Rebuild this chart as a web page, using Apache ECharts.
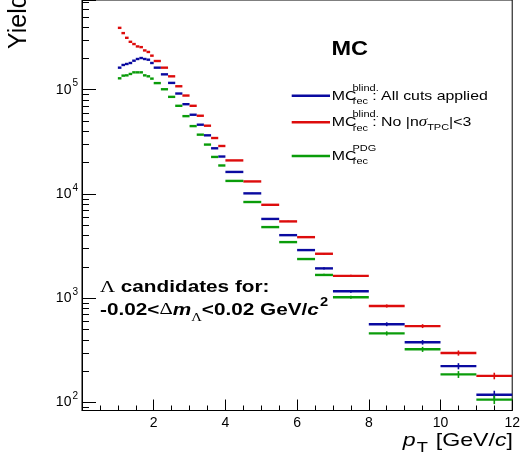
<!DOCTYPE html>
<html>
<head>
<meta charset="utf-8">
<script src="https://cdn.jsdelivr.net/npm/echarts@6/dist/echarts.min.js"></script>
<style>
  html, body { margin: 0; padding: 0; background: #fff; }
  #chart { width: 523px; height: 466px; }
</style>
</head>
<body>
<div id="chart"></div>
<script>
// pT bin edges in GeV/c (31 bins)
const ptEdges = [1.0, 1.1, 1.2, 1.3, 1.4, 1.5, 1.6, 1.7, 1.8, 1.9,
                 2.0, 2.2, 2.4, 2.6, 2.8, 3.0, 3.2, 3.4, 3.6, 3.8,
                 4.0, 4.5, 5.0, 5.5, 6.0, 6.5, 7.0, 8.0, 9.0, 10.0, 11.0, 12.0];

// MC^blind_rec: all cuts applied
const yieldAllCuts = [162600, 172600, 176400, 180300, 189700, 196900, 201200, 196900, 193900, 180300,
                      162600, 140300, 116100, 91800, 72500, 57450, 46100, 36450, 27370, 22810,
                      16230, 10110, 5744, 4014, 2886, 1926, 1161, 561, 376, 222, 118];
const errAllCuts = [400, 420, 420, 420, 440, 440, 450, 440, 440, 420,
                    400, 370, 340, 300, 270, 240, 215, 190, 165, 150,
                    130, 100, 76, 63, 54, 44, 35, 24, 19, 15, 11];

// MC^blind_rec: no |n sigma_TPC| < 3
const yieldNoNsigma = [392000, 349000, 314500, 288000, 274000, 260000, 256000, 238000, 230000, 212000,
                       188400, 162600, 134300, 107800, 87800, 70000, 56200, 45100, 34350, 28800,
                       20940, 13160, 7850, 5440, 3841, 2661, 1633, 839, 538, 297, 179];
const errNoNsigma = [630, 590, 560, 540, 520, 510, 510, 490, 480, 460,
                     430, 400, 370, 330, 300, 265, 237, 212, 185, 170,
                     145, 115, 89, 74, 62, 52, 40, 29, 23, 17, 13];

// MC^PDG_rec
const yieldPDG = [128500, 136300, 137200, 141500, 146600, 146600, 146600, 137200, 134300, 127600,
                  115600, 100900, 85300, 70000, 55700, 44700, 37000, 29710, 22610, 18720,
                  13310, 8350, 4797, 3442, 2368, 1666, 1018, 458, 322, 185, 106];
const errPDG = [360, 370, 370, 380, 380, 380, 380, 370, 370, 360,
                340, 320, 290, 265, 236, 211, 192, 172, 150, 137,
                115, 91, 69, 59, 49, 41, 32, 21, 18, 14, 10];

// axis ranges
const xRange = [0, 12];
const yRange = [83.3, 725400];

const sans = '"Liberation Sans", Arial, Helvetica, sans-serif';
const serif = '"Liberation Serif", "Times New Roman", serif';
const STRETCH = 1.22; // horizontal text stretch

const colBlue = '#0a0aa0';
const colRed = '#dd0c0c';
const colGreen = '#0a9c0a';

// histogram drawn as horizontal bin segments with vertical error bars
function histSeries(name, values, errors, color) {
  const data = values.map((v, i) => [ptEdges[i], ptEdges[i + 1], v, errors[i]]);
  return {
    type: 'custom',
    name: name,
    data: data,
    encode: { x: [0, 1], y: 2 },
    z: 5,
    renderItem: function (params, api) {
      const lo = api.value(0), hi = api.value(1), v = api.value(2), e = api.value(3);
      const c = (lo + hi) / 2;
      const a = api.coord([lo, v]);
      const b = api.coord([hi, v]);
      const t = api.coord([c, v + e]);
      const d = api.coord([c, v - e]);
      return {
        type: 'group',
        children: [
          { type: 'line', shape: { x1: a[0], y1: a[1], x2: b[0], y2: b[1] },
            style: { stroke: color, lineWidth: 2.4 } },
          { type: 'line', shape: { x1: t[0], y1: t[1], x2: d[0], y2: d[1] },
            style: { stroke: color, lineWidth: 1.6 } }
        ]
      };
    }
  };
}

// minor ticks of the log axis at 2..9 x 10^k
const yMinorTicks = [];
for (let k = 1; k <= 5; k++) {
  for (let m = 2; m <= 9; m++) {
    const v = m * Math.pow(10, k);
    if (v > yRange[0] && v < yRange[1]) yMinorTicks.push([0, v]);
  }
}

function txt(x, y, text, opt) {
  opt = opt || {};
  return {
    type: 'text',
    x: x, y: y,
    scaleX: opt.scaleX || STRETCH,
    scaleY: opt.scaleY || 1,
    rotation: opt.rotation || 0,
    silent: true,
    z: 10,
    style: {
      text: text,
      font: opt.font || ('13px ' + sans),
      fill: opt.fill || '#000',
      align: opt.align || 'left',
      verticalAlign: opt.verticalAlign || 'middle',
      rich: opt.rich
    }
  };
}

const legendRows = [
  { y: 95.7, color: colBlue, sup: 'blind.', tail: ': All cuts applied' },
  { y: 122.3, color: colRed, sup: 'blind.', tail: ': No |n{g|σ}{sb|TPC}|<3' },
  { y: 156, color: colGreen, sup: 'PDG', tail: '' }
];

const graphics = [];
// y axis title (runs past the top edge)
graphics.push(txt(19, 49, 'Yield', { font: '25px ' + sans, rotation: Math.PI / 2, scaleX: 1, scaleY: 1 }));
// x axis title
graphics.push(txt(513, 441, '{p|p}{s|T} [GeV/{c|c}]', {
  font: '19px ' + sans, align: 'right',
  rich: {
    p: { font: 'italic 19px ' + sans },
    s: { font: '15px ' + sans, padding: [14, 1, 0, 1] },
    c: { font: 'italic 19px ' + sans }
  }
}));
// legend header
graphics.push(txt(331.5, 49.2, 'MC', { font: 'bold 21px ' + sans, scaleX: 1.12 }));
legendRows.forEach(function (r) {
  graphics.push({ type: 'line', silent: true, z: 10,
    shape: { x1: 291.7, y1: r.y, x2: 330, y2: r.y },
    style: { stroke: r.color, lineWidth: 2.4 } });
  graphics.push(txt(331.7, r.y + 0.3, 'MC', { font: '13px ' + sans }));
  graphics.push(txt(352.5, r.y - 7.6, r.sup, { font: '9px ' + sans }));
  graphics.push(txt(352.8, r.y + 6.0, 'rec', { font: '9px ' + sans }));
  if (r.tail) {
    graphics.push(txt(372.3, r.y + 0.3, r.tail, {
      font: '13px ' + sans,
      rich: {
        g: { font: 'italic 14px ' + serif },
        sb: { font: '9px ' + sans, padding: [9, 0, 0, 0] }
      }
    }));
  }
});
// selection annotation
graphics.push(txt(100, 287.5, '{L|Λ} candidates for:', {
  font: 'bold 17px ' + sans,
  rich: { L: { font: '17px ' + serif } }
}));
graphics.push(txt(100, 310, '-0.02<{L|Δ}{m|m}{ls|Λ}<0.02 GeV/{c|c}{sp|2}', {
  font: 'bold 17px ' + sans,
  rich: {
    L: { font: '17px ' + serif },
    m: { font: 'italic bold 17px ' + sans },
    ls: { font: '12px ' + serif, padding: [15, 0, 0, 0] },
    c: { font: 'italic bold 17px ' + sans },
    sp: { font: 'bold 12px ' + sans, padding: [0, 0, 15, 1] }
  }
}));

const chart = echarts.init(document.getElementById('chart'), null, { renderer: 'canvas' });
chart.setOption({
  backgroundColor: '#fff',
  animation: false,
  grid: {
    left: 82, right: 10, top: -2, bottom: 55.5,
    show: true, borderColor: '#000', borderWidth: 1, backgroundColor: 'transparent'
  },
  xAxis: {
    type: 'value', min: xRange[0], max: xRange[1], interval: 2,
    axisLine: { show: true, onZero: false, lineStyle: { color: '#000', width: 1 } },
    axisTick: { show: true, inside: true, length: 11, lineStyle: { color: '#000' } },
    minorTick: { show: true, splitNumber: 4, length: 5, lineStyle: { color: '#000' } },
    splitLine: { show: false },
    minorSplitLine: { show: false },
    axisLabel: {
      color: '#000', fontSize: 14, fontFamily: sans, margin: 6,
      formatter: function (v) { return v === 0 ? '' : String(v); }
    }
  },
  yAxis: {
    type: 'log', logBase: 10, min: yRange[0], max: yRange[1],
    axisLine: { show: true, lineStyle: { color: '#000', width: 1 } },
    axisTick: { show: true, inside: true, length: 14, lineStyle: { color: '#000' } },
    splitLine: { show: false },
    axisLabel: {
      color: '#000', margin: 4, fontFamily: sans,
      formatter: function (v) {
        const l = Math.log10(v);
        const k = Math.round(l);
        if (Math.abs(l - k) > 1e-6) return '';
        return '{b|10}{s|' + k + '}';
      },
      rich: {
        b: { fontSize: 14, fontFamily: sans, color: '#000' },
        s: { fontSize: 10, fontFamily: sans, color: '#000', padding: [0, 0, 12, 1] }
      }
    }
  },
  graphic: graphics,
  series: [
    {
      type: 'custom',
      name: 'yMinorTicks',
      data: yMinorTicks,
      encode: { x: 0, y: 1 },
      silent: true,
      z: 3,
      renderItem: function (params, api) {
        const p = api.coord([xRange[0], api.value(1)]);
        const y = Math.round(p[1]) + 0.5;
        return { type: 'line', shape: { x1: p[0], y1: y, x2: p[0] + 7, y2: y },
                 style: { stroke: '#000', lineWidth: 1 } };
      }
    },
    histSeries('MC blind rec: all cuts applied', yieldAllCuts, errAllCuts, colBlue),
    histSeries('MC blind rec: no |n sigma TPC|<3', yieldNoNsigma, errNoNsigma, colRed),
    histSeries('MC PDG rec', yieldPDG, errPDG, colGreen)
  ]
});
</script>
</body>
</html>
